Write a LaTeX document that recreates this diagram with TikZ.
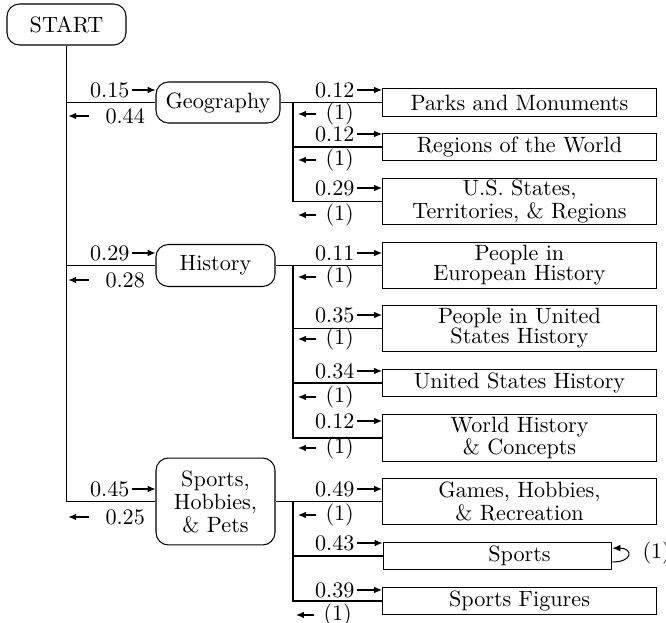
\documentclass[tikz,border=0pt]{standalone}
\usetikzlibrary{arrows.meta,calc}
\newcommand\rinlab[4]{\node[lab,anchor=east] (#1) at (#2) {#3};
  \draw[larr] ([xshift=1pt]#1.east) -- (#1.east -| #4.west);}
\newcommand\routlab[3]{\node[lab,anchor=west] (#1) at (#2) {#3};
  \draw[larr] ([xshift=-4.3pt]#1.west) -- ++(-8.7pt,0);}
\newcommand\loutlab[3]{\node[lab,anchor=west] (#1) at (#2) {#3};
  \draw[larr] ([xshift=-7.7pt]#1.west) -- ++(-10pt,0);}
\begin{document}
\begin{tikzpicture}[x=0.4831pt,y=-0.4831pt, line width=0.5pt,
  font=\fontsize{10.7pt}{12.8pt}\selectfont,
  rnd/.style={draw, rounded corners=6pt, inner sep=0pt, align=center, minimum height=19.8pt},
  box/.style={draw, inner sep=0pt, align=center, minimum width=132.4pt, minimum height=13.5pt,
    font=\fontsize{10.7pt}{9.7pt}\selectfont},
  tallbox/.style={box, minimum height=22.5pt},
  lab/.style={inner sep=0pt},
  larr/.style={-{Latex[length=3.8pt,width=3.2pt]}}]
\useasboundingbox (0,0) rectangle (666,623);

% main nodes
\node[rnd, minimum width=57.5pt] (start) at (66.5,24.5) {START};
\node[rnd, minimum width=59.9pt] (geo) at (218,102.5) {Geography};
\node[rnd, minimum width=57.5pt, minimum height=20.3pt] (hist) at (215.5,265.5) {History};
\node[rnd, minimum width=57.5pt, minimum height=42pt, font=\fontsize{10.7pt}{11.1pt}\selectfont]
  (sph) at (215.5,501.5) {Sports,\\Hobbies,\\\& Pets};

% leaf boxes
\node[box] (parks) at (519.5,102.5) {Parks and Monuments};
\node[box] (regions) at (519.5,147) {Regions of the World};
\node[tallbox] (usst) at (519.5,201.5) {U.S. States,\\Territories, \& Regions};
\node[tallbox] (peu) at (519.5,265.5) {People in\\European History};
\node[tallbox] (pus) at (519.5,328.5) {People in United\\States History};
\node[box] (ush) at (519.5,383) {United States History};
\node[tallbox] (wh) at (519.5,438) {World History\\\& Concepts};
\node[tallbox] (games) at (519.5,501.5) {Games, Hobbies,\\\& Recreation};
\node[box, minimum width=110.6pt] (sports) at (497.5,556) {\hspace*{21.3pt}Sports};
\node[box] (sfig) at (519.5,601) {Sports Figures};

% junctions
\coordinate (gj) at (293,102.5);
\coordinate (hj) at (293,265.5);
\coordinate (sj) at (293,501.5);

% connectors
\draw (start.south) |- (sph.west);
\draw (start.south |- geo.west) -- (geo.west);
\draw (start.south |- hist.west) -- (hist.west);
\draw (geo.east) -- (gj) -- (parks.west);
\draw (gj) |- (usst.west);
\draw (gj |- regions.west) -- (regions.west);
\draw (hist.east) -- (hj) -- (peu.west);
\draw (hj) |- (wh.west);
\draw (hj |- pus.west) -- (pus.west);
\draw (hj |- ush.west) -- (ush.west);
\draw (sph.east) -- (sj) -- (games.west);
\draw (sj) |- (sfig.west);
\draw (sj |- sports.west) -- (sports.west);

% left labels
\rinlab{gin}{130,90}{0.15}{geo}
\loutlab{gout}{105,116}{0.44}
\rinlab{hin}{130,253}{0.29}{hist}
\loutlab{hout}{105,280}{0.28}
\rinlab{sin}{130,489}{0.45}{sph}
\loutlab{sout}{105,517}{0.25}

% right labels
\rinlab{l1}{355,90}{0.12}{parks}
\routlab{r1}{325,114}{(1)}
\rinlab{l2}{355,134}{0.12}{regions}
\routlab{r2}{325,160}{(1)}
\rinlab{l3}{355,188}{0.29}{usst}
\routlab{r3}{325,215}{(1)}
\rinlab{l4}{355,253}{0.11}{peu}
\routlab{r4}{325,277}{(1)}
\rinlab{l5}{355,315}{0.35}{pus}
\routlab{r5}{325,339}{(1)}
\rinlab{l6}{355,371}{0.34}{ush}
\routlab{r6}{325,397}{(1)}
\rinlab{l7}{355,421}{0.12}{wh}
\routlab{r7}{325,448}{(1)}
\rinlab{l8}{355,489}{0.49}{games}
\routlab{r8}{325,515}{(1)}
\rinlab{l9}{355,543}{0.43}{sports}
\rinlab{l10}{355,590}{0.39}{sfig}
\routlab{r10}{323,615}{(1)}

% self loop
\draw[larr] ([yshift=-2.9pt]sports.east) .. controls +(10pt,0) and +(10pt,0) .. ([yshift=3.8pt]sports.east);
\node[lab, anchor=west] (loop) at (642,553) {(1)};
\end{tikzpicture}
\end{document}
